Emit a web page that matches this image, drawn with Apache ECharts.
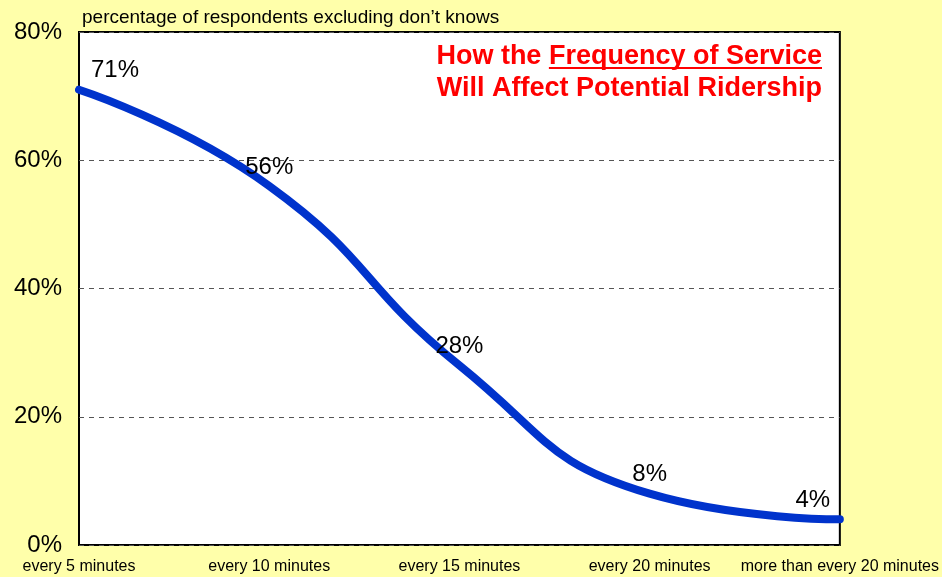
<!DOCTYPE html>
<html>
<head>
<meta charset="utf-8">
<script src="https://cdn.jsdelivr.net/npm/echarts@6/dist/echarts.min.js"></script>
<style>
  html, body { margin: 0; padding: 0; background: #FFFFAA; }
  #chart { width: 942px; height: 577px; }
</style>
</head>
<body>
<div id="chart"></div>
<script>
// Service frequency categories and share of respondents who would ride
const categories = ['every 5 minutes', 'every 10 minutes', 'every 15 minutes', 'every 20 minutes', 'more than every 20 minutes'];
const ridership = [71, 56, 28, 8, 4];
const yTicks = [0, 20, 40, 60, 80];

const FONT = '"Liberation Sans", Arial, sans-serif';
const TITLE_FONT = 'bold 27px ' + FONT;
const TITLE_RIGHT = 822;

// nudge the end labels inward so they stay inside the frame
const labelShift = { 0: 36, 4: -27 };

// width of the underlined part of the heading
function textWidth(str, font) {
  const ctx = document.createElement('canvas').getContext('2d');
  ctx.font = font;
  return ctx.measureText(str).width;
}
const underlineW = textWidth('Frequency of Service', TITLE_FONT);

const chart = echarts.init(document.getElementById('chart'), null, { renderer: 'canvas' });

chart.setOption({
  backgroundColor: '#FFFFAA',
  animation: false,
  grid: {
    left: 79, right: 102, top: 32, bottom: 32,
    show: true,
    backgroundColor: '#FFFFFF',
    borderColor: '#000000',
    borderWidth: 2
  },
  xAxis: {
    type: 'category',
    data: categories,
    boundaryGap: false,
    axisLine: { show: false },
    axisTick: { show: false },
    axisLabel: {
      color: '#000000', fontFamily: FONT, fontSize: 16, margin: 14,
      interval: 0
    },
    splitLine: { show: false }
  },
  yAxis: {
    type: 'value',
    min: yTicks[0],
    max: yTicks[yTicks.length - 1],
    interval: 20,
    axisLine: { show: false },
    axisTick: { show: false },
    axisLabel: {
      color: '#000000', fontFamily: FONT, fontSize: 24, margin: 17,
      formatter: v => v + '%'
    },
    splitLine: {
      show: true,
      lineStyle: { color: '#555555', type: [5, 5], width: 1 }
    }
  },
  graphic: [
    {
      type: 'text', x: 82, y: 8,
      style: {
        text: 'percentage of respondents excluding don\u2019t knows',
        font: '19px ' + FONT, fill: '#000000'
      }
    },
    {
      type: 'text', x: TITLE_RIGHT, y: 57,
      style: {
        text: 'How the Frequency of Service',
        font: TITLE_FONT, fill: '#FF0000',
        align: 'right', verticalAlign: 'middle'
      }
    },
    {
      type: 'text', x: TITLE_RIGHT, y: 89,
      style: {
        text: 'Will Affect Potential Ridership',
        font: TITLE_FONT, fill: '#FF0000',
        align: 'right', verticalAlign: 'middle'
      }
    },
    {
      type: 'rect',
      shape: { x: TITLE_RIGHT - underlineW, y: 67, width: underlineW, height: 2 },
      style: { fill: '#FF0000' }
    }
  ],
  series: [{
    type: 'line',
    data: ridership,
    smooth: 0.5,
    symbol: 'circle',
    symbolSize: 2,
    showSymbol: true,
    itemStyle: { color: '#0033CC' },
    lineStyle: { color: '#0033CC', width: 8, cap: 'round' },
    label: {
      show: true, position: 'top', distance: 6,
      color: '#000000', fontFamily: FONT, fontSize: 24,
      formatter: p => p.value + '%'
    },
    labelLayout: p => ({ dx: labelShift[p.dataIndex] || 0, hideOverlap: false }),
    z: 3
  }]
});
</script>
</body>
</html>
